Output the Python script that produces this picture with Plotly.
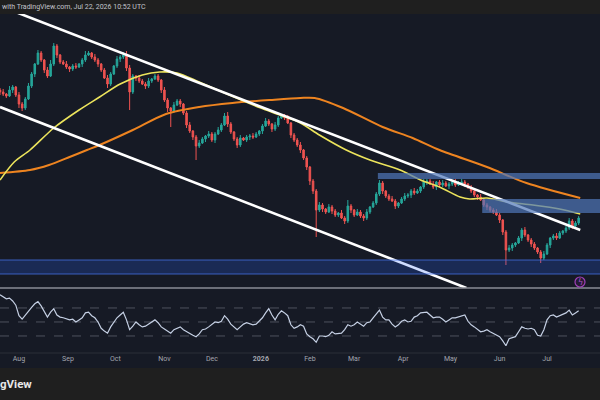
import pandas as pd
import plotly.graph_objects as go

# daily-ish candles (2 day bars), price in arbitrary units
candle_start = '2025-07-20'
first_open = 210
closes = [208, 206, 204, 210, 213, 205, 196, 192, 201, 214,
          226, 236, 247, 240, 230, 224, 236, 254, 245, 238,
          236, 233, 231, 234, 233, 236, 240, 245, 247, 243,
          240, 236, 230, 222, 216, 226, 234, 241, 243, 245,
          232, 208, 224, 222, 219, 216, 214, 219, 221, 224,
          220, 210, 200, 192, 189, 195, 199, 196, 187, 175,
          169, 163, 154, 157, 161, 164, 166, 160, 166, 170,
          175, 184, 176, 168, 161, 155, 162, 160, 163, 164,
          163, 166, 169, 174, 179, 176, 171, 175, 182, 184,
          182, 177, 165, 160, 155, 150, 142, 133, 119, 109,
          90, 95, 91, 88, 93, 89, 85, 87, 82, 79,
          94, 90, 85, 88, 84, 82, 88, 93, 97, 106,
          117, 109, 104, 101, 99, 94, 97, 101, 104, 105,
          109, 107, 109, 113, 118, 119, 116, 113, 118, 115,
          117, 114, 116, 118, 115, 117, 118, 116, 113, 109,
          105, 103, 100, 95, 93, 90, 88, 85, 80, 68,
          50, 52, 55, 57, 62, 70, 65, 60, 56, 52,
          48, 42, 46, 55, 62, 64, 62, 67, 69, 72,
          79, 74, 77, 82]
wick_up = [2, 3, 1, 4, 2, 1, 3, 2, 2, 3,
           2, 1, 3, 2, 1, 3, 4, 3, 2, 1,
           2, 3, 1, 2, 3, 1, 2, 4, 2, 1,
           3, 2, 1, 2, 3, 2, 1, 3, 2, 3,
           4, 3, 2, 1, 3, 2, 2, 3, 1, 2,
           2, 1, 3, 2, 1, 3, 2, 2, 1, 2,
           3, 1, 2, 3, 2, 1, 3, 2, 2, 3,
           2, 3, 4, 2, 1, 2, 3, 1, 2, 2,
           3, 2, 1, 2, 3, 2, 1, 3, 2, 2,
           2, 3, 1, 2, 2, 3, 1, 2, 1, 2,
           2, 3, 2, 1, 3, 2, 2, 1, 3, 2,
           6, 2, 1, 3, 2, 2, 3, 1, 2, 2,
           3, 2, 1, 2, 3, 2, 1, 2, 3, 2,
           2, 3, 2, 1, 3, 2, 2, 3, 1, 2,
           3, 2, 2, 1, 3, 2, 3, 2, 1, 2,
           2, 1, 3, 2, 2, 1, 2, 3, 2, 1,
           2, 3, 2, 1, 2, 2, 3, 1, 2, 2,
           1, 2, 3, 2, 1, 2, 3, 2, 1, 2,
           3, 2, 2, 2]
wick_dn = [3, 2, 2, 1, 3, 2, 4, 3, 2, 1,
           2, 3, 1, 2, 3, 2, 1, 2, 3, 2,
           1, 2, 3, 2, 2, 1, 3, 2, 1, 2,
           2, 3, 2, 1, 4, 2, 1, 2, 3, 2,
           3, 18, 2, 3, 2, 1, 3, 2, 2, 1,
           2, 3, 2, 4, 16, 2, 1, 3, 2, 3,
           2, 3, 14, 2, 1, 3, 2, 2, 3, 1,
           2, 1, 3, 2, 2, 3, 2, 1, 2, 3,
           2, 1, 2, 3, 1, 2, 3, 2, 2, 1,
           2, 1, 3, 2, 2, 3, 2, 3, 4, 3,
           27, 2, 3, 2, 1, 3, 2, 2, 1, 3,
           2, 3, 2, 1, 2, 3, 2, 2, 1, 2,
           2, 3, 2, 2, 1, 3, 2, 1, 2, 2,
           3, 2, 1, 2, 2, 3, 1, 2, 3, 2,
           2, 1, 3, 2, 2, 1, 2, 3, 2, 2,
           2, 3, 1, 2, 3, 2, 2, 1, 3, 3,
           15, 2, 3, 2, 1, 3, 2, 2, 3, 2,
           2, 5, 2, 1, 3, 2, 2, 1, 2, 2,
           2, 3, 2, 2]
rsi = [89, 86, 83, 84, 80, 74, 59, 54, 60, 66,
       71, 76, 79, 73, 64, 57, 64, 69, 60, 57,
       56, 54, 53, 54, 50, 53, 56, 63, 64, 59,
       56, 50, 41, 37, 34, 43, 50, 56, 60, 64,
       53, 39, 44, 50, 46, 43, 44, 47, 49, 53,
       49, 43, 40, 37, 34, 39, 41, 43, 39, 36,
       34, 31, 29, 33, 39, 40, 43, 47, 50, 49,
       51, 59, 54, 47, 43, 39, 43, 47, 49, 47,
       46, 47, 51, 56, 63, 69, 60, 53, 61, 66,
       63, 59, 46, 41, 43, 46, 44, 33, 29, 26,
       21, 30, 30, 29, 31, 36, 33, 34, 34, 39,
       46, 44, 46, 50, 47, 44, 49, 50, 56, 61,
       67, 57, 53, 53, 47, 43, 46, 51, 53, 50,
       51, 57, 59, 63, 64, 64, 60, 56, 57, 57,
       54, 50, 53, 56, 56, 57, 59, 60, 51, 46,
       43, 40, 36, 37, 39, 36, 34, 31, 29, 23,
       16, 26, 27, 29, 36, 43, 41, 40, 41, 39,
       31, 30, 39, 53, 59, 60, 57, 59, 61, 63,
       67, 60, 63, 66]
rsi_levels = [70, 50, 30]

# moving averages (fast = yellow, slow = orange)
ma_fast_dates = ['2025-07-20', '2025-07-29', '2025-08-08', '2025-08-23',
                 '2025-09-08', '2025-09-21', '2025-10-04', '2025-10-18',
                 '2025-10-29', '2025-11-09', '2025-11-23', '2025-12-12',
                 '2026-01-01', '2026-01-13', '2026-01-26', '2026-02-07',
                 '2026-02-24', '2026-03-11', '2026-03-30', '2026-04-12',
                 '2026-04-24', '2026-05-07', '2026-05-13', '2026-05-24',
                 '2026-06-06', '2026-06-22', '2026-07-09', '2026-07-22']
ma_fast = [120, 138, 150, 172, 190, 203, 216, 225, 228, 227, 218, 205, 192,
           185, 177, 165, 150, 140, 130, 120, 113, 103, 101, 102, 98, 95,
           91, 86]
ma_slow_dates = ['2025-07-20', '2025-08-08', '2025-08-20', '2025-09-02',
                 '2025-09-13', '2025-09-21', '2025-10-12', '2025-11-02',
                 '2025-11-23', '2025-12-14', '2026-01-07', '2026-01-26',
                 '2026-02-04', '2026-02-22', '2026-03-19', '2026-04-07',
                 '2026-04-24', '2026-05-24', '2026-06-18', '2026-07-22']
ma_slow = [127, 130, 135, 143, 150, 155, 170, 186, 193, 197, 200, 202, 202,
           192, 173, 162, 150, 133, 117, 102]

# descending channel
upper_dates = ['2025-07-20', '2026-07-22']
upper_vals = [294, 70]
lower_dates = ['2025-07-20', '2026-05-11']
lower_vals = [193, 12]

# horizontal zones
zone_starts = ['2026-03-16', '2026-05-21', '2025-07-01']
zone_ends = ['2026-08-10', '2026-08-10', '2026-08-10']
zone_lows = [121, 87, 26]
zone_highs = [127, 101, 40]

month_ticks = ['2025-08-01', '2025-09-01', '2025-10-01', '2025-11-01',
               '2025-12-01', '2026-01-01', '2026-02-01', '2026-03-01',
               '2026-04-01', '2026-05-01', '2026-06-01', '2026-07-01',
               '2026-08-01']
month_labels = ['Aug', 'Sep', 'Oct', 'Nov', 'Dec', '<b>2026</b>', 'Feb', 'Mar',
                'Apr', 'May', 'Jun', 'Jul', 'Aug']

BG = '#161a25'
BAR = '#1f1f1f'
FONT = 'Roboto'

dates = pd.date_range(candle_start, periods=len(closes), freq='2D')
opens = [first_open] + closes[:-1]
highs = [max(o, c) + w for o, c, w in zip(opens, closes, wick_up)]
lows = [min(o, c) - w for o, c, w in zip(opens, closes, wick_dn)]

fig = go.Figure()
fig.add_trace(go.Candlestick(
    x=dates, open=opens, high=highs, low=lows, close=closes,
    increasing=dict(line=dict(color='#26a69a', width=1), fillcolor='#26a69a'),
    decreasing=dict(line=dict(color='#ef5350', width=1), fillcolor='#ef5350'),
    whiskerwidth=0, xaxis='x', yaxis='y', name='price'))
fig.add_trace(go.Scatter(x=ma_slow_dates, y=ma_slow, mode='lines',
                         line=dict(color='#ee8420', width=2, shape='spline',
                                   smoothing=0.8), name='MA slow'))
fig.add_trace(go.Scatter(x=ma_fast_dates, y=ma_fast, mode='lines',
                         line=dict(color='#ece45c', width=1.6, shape='spline',
                                   smoothing=0.8), name='MA fast'))
fig.add_trace(go.Scatter(x=upper_dates, y=upper_vals, mode='lines',
                         line=dict(color='#ffffff', width=2.6), name='upper'))
fig.add_trace(go.Scatter(x=lower_dates, y=lower_vals, mode='lines',
                         line=dict(color='#ffffff', width=2.6), name='lower'))
fig.add_trace(go.Scatter(x=dates, y=rsi, mode='lines', xaxis='x2',
                         yaxis='y2', line=dict(color='#c5d0e4', width=1.2),
                         name='RSI'))

shapes = []
for i, (s, e, lo, hi) in enumerate(zip(zone_starts, zone_ends, zone_lows,
                                       zone_highs)):
    if i < 2:
        fill, edge = 'rgba(80,120,185,0.7)', 'rgba(0,0,0,0)'
    else:
        fill, edge = 'rgba(41,98,255,0.22)', 'rgba(70,115,235,0.75)'
    shapes.append(dict(type='rect', xref='x', yref='y', x0=s, x1=e,
                       y0=lo, y1=hi, fillcolor=fill,
                       line=dict(color=edge, width=1), layer='above'))
for lvl in rsi_levels:
    shapes.append(dict(type='line', xref='paper', yref='y2', x0=0, x1=1,
                       y0=lvl, y1=lvl, line=dict(color='#5d606b', width=0.8,
                                                 dash='dash'), layer='below'))
# pane separators and top / bottom bars
shapes += [
    dict(type='line', xref='paper', yref='paper', x0=0, x1=1, y0=0.28,
         y1=0.28, line=dict(color='#8a8d96', width=1.5)),
    dict(type='line', xref='paper', yref='paper', x0=0, x1=1, y0=0.1175,
         y1=0.1175, line=dict(color='#2a2e39', width=1)),
    dict(type='rect', xref='paper', yref='paper', x0=0, x1=1, y0=0.965,
         y1=1, fillcolor=BAR, line=dict(width=0), layer='above'),
    dict(type='rect', xref='paper', yref='paper', x0=0, x1=1, y0=0,
         y1=0.08, fillcolor=BAR, line=dict(width=0), layer='above'),
    dict(type='circle', xref='paper', yref='paper', x0=575 / 600,
         x1=585 / 600, y0=0.2825, y1=0.3075, fillcolor='#251b35',
         line=dict(color='#a040b8', width=1.2), layer='above'),
]

fig.update_layout(
    width=600, height=400, showlegend=False,
    margin=dict(l=0, r=0, t=0, b=0),
    paper_bgcolor=BG, plot_bgcolor=BG,
    font=dict(family=FONT, color='#a3a6af', size=7),
    xaxis=dict(domain=[0, 1], anchor='y',
               range=['2025-07-20', '2026-08-03 12:00'],
               rangeslider=dict(visible=False), showticklabels=False,
               showgrid=False, zeroline=False),
    yaxis=dict(domain=[0.28, 0.965], range=[12, 286], visible=False),
    xaxis2=dict(domain=[0, 1], anchor='y2', matches='x',
                tickvals=month_ticks, ticktext=month_labels, ticks='',
                showgrid=False, zeroline=False, showline=False,
                tickfont=dict(size=7, color='#a3a6af')),
    yaxis2=dict(domain=[0.1175, 0.2775], range=[5.7, 97.1], visible=False),
    shapes=shapes,
    annotations=[
        dict(text='with TradingView.com, Jul 22, 2026 10:52 UTC',
             xref='paper', yref='paper', x=0, y=0.9825, xanchor='left',
             yanchor='middle', showarrow=False,
             font=dict(size=7, color='#c2c5cc', family=FONT)),
        dict(text='<b>gView</b>', xref='paper', yref='paper', x=-0.003,
             y=0.04, xanchor='left', yanchor='middle', showarrow=False,
             font=dict(size=11.5, color='#e8e8e8', family=FONT)),
        dict(text='ϟ', xref='paper', yref='paper', x=580 / 600, y=0.295,
             xanchor='center', yanchor='middle', showarrow=False,
             font=dict(size=8, color='#b050c8', family='DejaVu Sans')),
    ],
)

# drop the default page margin so the figure fills the window
fig.write_html('out.html', config={'displayModeBar': False},
               post_script="document.body.style.margin='0';")
